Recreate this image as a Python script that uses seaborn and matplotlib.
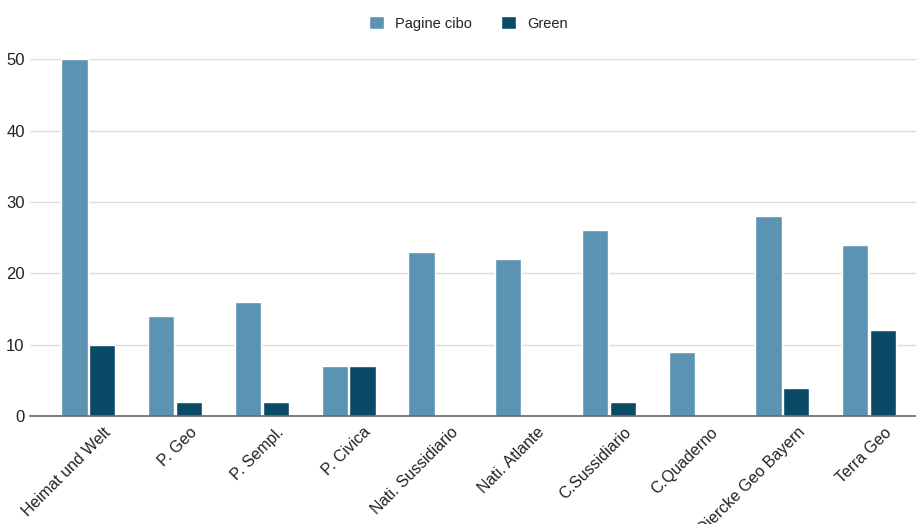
import pandas as pd
import matplotlib
matplotlib.use("Agg")
import matplotlib.pyplot as plt
import matplotlib.transforms as mtransforms
import seaborn as sns

# Data
books = ["Heimat und Welt", "P. Geo", "P. Sempl.", "P. Civica", "Nati. Sussidiario",
         "Nati. Atlante", "C.Sussidiario", "C.Quaderno", "Diercke Geo Bayern", "Terra Geo"]
pagine_cibo = [50, 14, 16, 7, 23, 22, 26, 9, 28, 24]
green = [10, 2, 2, 7, 0, 0, 2, 0, 4, 12]

df = pd.DataFrame({
    "book": books * 2,
    "value": pagine_cibo + green,
    "series": ["Pagine cibo"] * len(books) + ["Green"] * len(books),
})

sns.set_style("white")
plt.rcParams["font.family"] = ["Liberation Sans", "DejaVu Sans"]

fig = plt.figure(figsize=(9.16, 5.24), dpi=100)
ax = fig.add_axes([0.033, 0.206, 0.967, 0.681])

sns.barplot(data=df, x="book", y="value", hue="series",
            palette={"Pagine cibo": "#5b93b2", "Green": "#0b4a67"},
            width=0.64, gap=0.06, saturation=1, ax=ax)

ax.set_ylim(0, 50)
ax.set_xlim(-0.67, 9.54)
ax.set_yticks([0, 10, 20, 30, 40, 50])
ax.yaxis.grid(True, color="#dddddd", linewidth=1)
ax.set_axisbelow(True)
for s in ["left", "right", "top"]:
    ax.spines[s].set_visible(False)
ax.spines["bottom"].set_color("#666666")
ax.spines["bottom"].set_linewidth(1.2)
ax.spines["bottom"].set_zorder(5)
ax.tick_params(axis="y", length=0, labelsize=12, colors="#222222", pad=4)
ax.tick_params(axis="x", length=0, labelsize=11.5, colors="#222222", pad=10)
ax.set_xlabel("")
ax.set_ylabel("")
ax.set_xticks(range(len(books)))
ax.set_xticklabels(books, rotation=45, ha="right", va="center", rotation_mode="anchor")
shift = mtransforms.ScaledTranslation(0.20, 0, fig.dpi_scale_trans)
for lbl in ax.get_xticklabels():
    lbl.set_transform(lbl.get_transform() + shift)

ax.legend(loc="center", bbox_to_anchor=(0.495, 1.1), ncol=2, frameon=False,
          handlelength=1.0, handleheight=1.0, columnspacing=2.0, handletextpad=0.8,
          fontsize=10.5, labelcolor="#222222")

fig.savefig("out.png", dpi=100)
